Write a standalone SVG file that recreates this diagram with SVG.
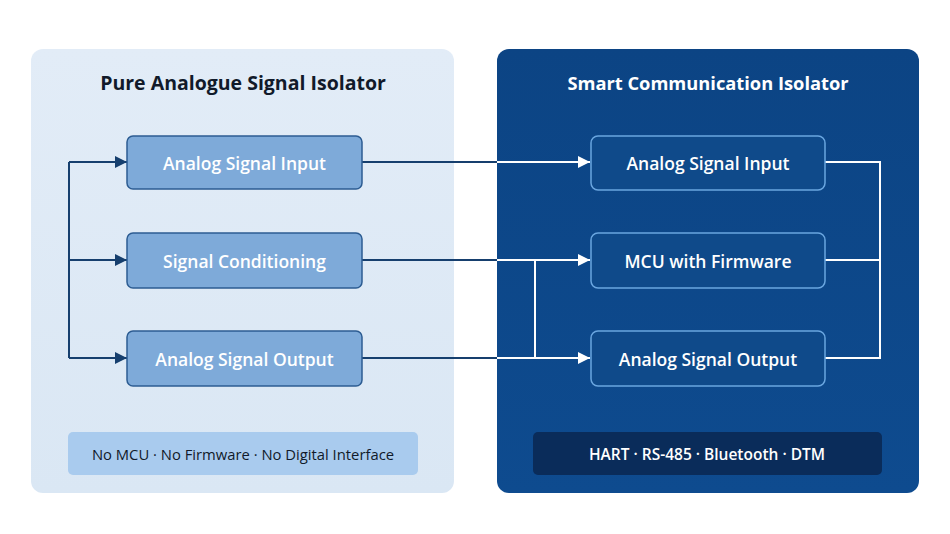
<svg xmlns="http://www.w3.org/2000/svg" width="950" height="534" viewBox="0 0 950 534">
<defs>
<style>
.t{font-family:"Open Sans","Liberation Sans",sans-serif;text-anchor:middle;dominant-baseline:central}
.title{font-size:19.5px;font-weight:700}
.lbox{fill:#7eaad9;stroke:#2c5c92;stroke-width:1.5}
.rbox{fill:#0f4a8a;stroke:#6aa6e0;stroke-width:1.5}
.bt{font-size:17.5px;font-weight:600;fill:#ffffff}
.dark{stroke:#163f6e;stroke-width:2;fill:none}
.white{stroke:#ffffff;stroke-width:2;fill:none}
</style>
<linearGradient id="lg" x1="0" y1="0" x2="0" y2="1">
<stop offset="0" stop-color="#e2ecf7"/>
<stop offset="1" stop-color="#dae7f4"/>
</linearGradient>
<linearGradient id="rg" x1="0" y1="0" x2="0" y2="1">
<stop offset="0" stop-color="#0c4484"/>
<stop offset="1" stop-color="#0e4b8f"/>
</linearGradient>
<marker id="ad" viewBox="0 0 10 10" refX="10" refY="5" markerWidth="12" markerHeight="12" orient="auto" markerUnits="userSpaceOnUse">
<path d="M0,0 L10,5 L0,10 z" fill="#163f6e"/>
</marker>
<marker id="aw" viewBox="0 0 10 10" refX="10" refY="5" markerWidth="12" markerHeight="12" orient="auto" markerUnits="userSpaceOnUse">
<path d="M0,0 L10,5 L0,10 z" fill="#ffffff"/>
</marker>
</defs>
<rect width="950" height="534" fill="#ffffff"/>
<g id="panel-left">
<rect x="31" y="49" width="423" height="444" rx="12" fill="url(#lg)"/>
<text class="t title" x="243" y="82" fill="#111a2a">Pure Analogue Signal Isolator</text>
</g>
<g id="panel-right">
<rect x="497" y="49" width="422" height="444" rx="12" fill="url(#rg)"/>
<text class="t title" x="708" y="82" fill="#ffffff" style="font-size:18.3px">Smart Communication Isolator</text>
</g>
<g id="connectors">
<path class="dark" d="M69,162 V358"/>
<path class="dark" d="M69,162 H127" marker-end="url(#ad)"/>
<path class="dark" d="M69,260 H127" marker-end="url(#ad)"/>
<path class="dark" d="M69,358 H127" marker-end="url(#ad)"/>
<path class="dark" d="M362,162 H497"/>
<path class="dark" d="M362,260 H497"/>
<path class="dark" d="M362,358 H497"/>
<path class="white" d="M497,162 H590" marker-end="url(#aw)"/>
<path class="white" d="M497,260 H590" marker-end="url(#aw)"/>
<path class="white" d="M497,358 H590" marker-end="url(#aw)"/>
<path class="white" d="M535,260 V358"/>
<path class="white" d="M825,162 H880 V358 H825"/>
<path class="white" d="M825,260 H880"/>
</g>
<g id="l-input">
<rect class="lbox" x="127" y="136" width="235" height="53" rx="6"/>
<text class="t bt" x="244.5" y="162.5">Analog Signal Input</text>
</g>
<g id="l-cond">
<rect class="lbox" x="127" y="233" width="235" height="55" rx="6"/>
<text class="t bt" x="244.5" y="260.5">Signal Conditioning</text>
</g>
<g id="l-output">
<rect class="lbox" x="127" y="331" width="235" height="55" rx="6"/>
<text class="t bt" x="244.5" y="358.5">Analog Signal Output</text>
</g>
<g id="r-input">
<rect class="rbox" x="591" y="136" width="234" height="54" rx="7"/>
<text class="t bt" x="708" y="163">Analog Signal Input</text>
</g>
<g id="r-mcu">
<rect class="rbox" x="591" y="233" width="234" height="55" rx="7"/>
<text class="t bt" x="708" y="260.5">MCU with Firmware</text>
</g>
<g id="r-output">
<rect class="rbox" x="591" y="331" width="234" height="55" rx="7"/>
<text class="t bt" x="708" y="358.5">Analog Signal Output</text>
</g>
<g id="l-note">
<rect x="68" y="432" width="350" height="43" rx="5" fill="#a9cbee"/>
<text class="t" x="243" y="454" font-size="14.8" fill="#111a2a">No MCU · No Firmware · No Digital Interface</text>
</g>
<g id="r-note">
<rect x="533" y="432" width="349" height="43" rx="5" fill="#0a2c5a"/>
<text class="t" x="707" y="454" font-size="15.5" font-weight="600" fill="#ffffff">HART · RS-485 · Bluetooth · DTM</text>
</g>
</svg>
